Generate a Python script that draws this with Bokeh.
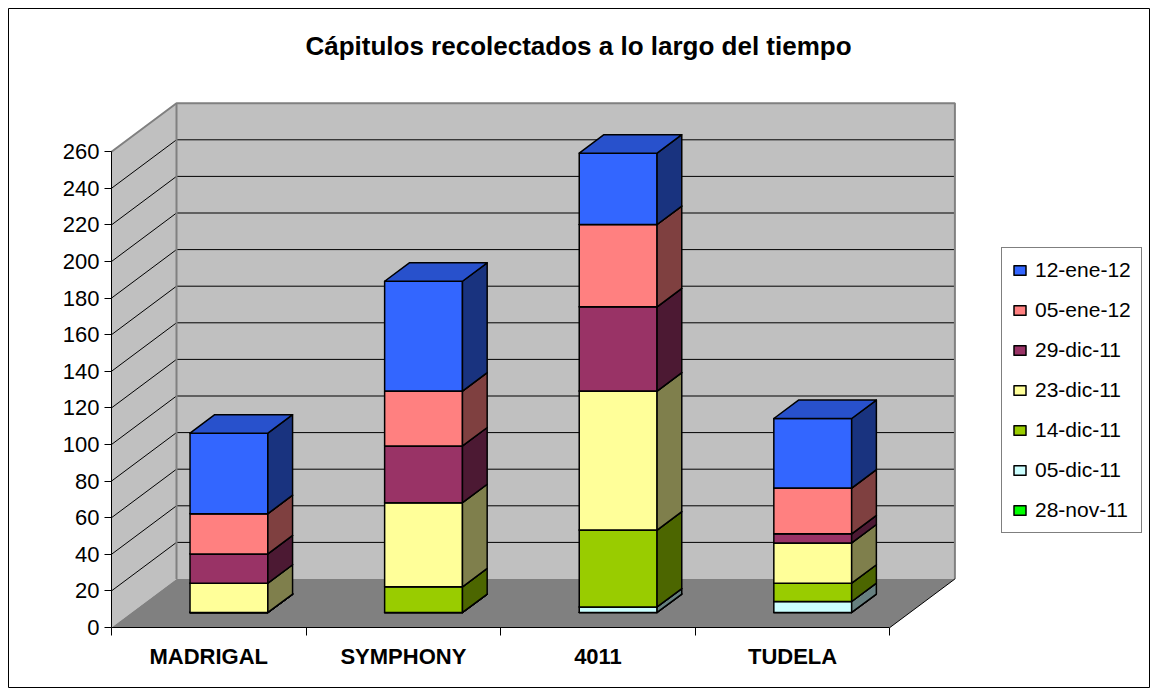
import numpy as np
from bokeh.plotting import figure
from bokeh.models import (Range1d, LinearAxis, FixedTicker, Legend, LegendItem,
                          Label, ColumnDataSource)
from bokeh.embed import file_html
from bokeh.resources import INLINE

# ---------------- data ----------------
categories = ["MADRIGAL", "SYMPHONY", "4011", "TUDELA"]
series_names = ["28-nov-11", "05-dic-11", "14-dic-11", "23-dic-11",
                "29-dic-11", "05-ene-12", "12-ene-12"]
nov28 = [0, 0, 0, 0]
dic05 = [0, 0, 3, 6]
dic14 = [0, 14, 42, 10]
dic23 = [16, 46, 76, 22]
dic29 = [16, 31, 46, 5]
ene05 = [22, 30, 45, 25]
ene12 = [44, 60, 39, 38]
series_values = [nov28, dic05, dic14, dic23, dic29, ene05, ene12]
series_colors = ["#00FF00", "#CCFFFF", "#99CC00", "#FFFF99",
                 "#993366", "#FF8080", "#3366FF"]
y_ticks = list(range(0, 261, 20))
title_text = "Cápitulos recolectados a lo largo del tiempo"

# ---------------- geometry (layout / style) ----------------
PX_PER_CAT = 194.6
PX_PER_UNIT = 1.83
DX = 65.0 / PX_PER_CAT      # depth offset in category units
DY = 48.5 / PX_PER_UNIT     # depth offset in value units
W = 0.40                    # bar width (category units)
D0 = 0.31                   # bar front depth fraction
DB = 0.38                   # bar depth fraction
N = len(categories)
YMAX = y_ticks[-1]
FONT = "Liberation Sans"


def shade(hx, f):
    hx = hx.lstrip("#")
    r, g, b = (int(hx[i:i + 2], 16) for i in (0, 2, 4))
    return "#%02X%02X%02X" % (int(r * f), int(g * f), int(b * f))


p = figure(width=1157, height=695, output_backend="svg", toolbar_location=None,
           x_range=Range1d(-103 / PX_PER_CAT, 1038 / PX_PER_CAT),
           y_range=Range1d(-60 / PX_PER_UNIT, 619 / PX_PER_UNIT),
           min_border=8, x_axis_type=None, y_axis_type=None)
p.outline_line_color = "black"
p.outline_line_width = 1
p.background_fill_color = "white"
p.border_fill_color = "white"

# walls and floor
p.patch([0, 0, DX, DX], [0, YMAX, YMAX + DY, DY], fill_color="#C0C0C0", line_color=None)
p.patch([DX, DX, N + DX, N + DX], [DY, YMAX + DY, YMAX + DY, DY],
        fill_color="#C0C0C0", line_color=None)
p.patch([0, N, N + DX, DX], [0, 0, DY, DY], fill_color="#808080", line_color=None)

grid_vals = [v for v in y_ticks if 0 < v < YMAX]
p.segment(x0=[DX] * len(grid_vals), y0=[v + DY for v in grid_vals],
          x1=[N + DX] * len(grid_vals), y1=[v + DY for v in grid_vals],
          line_color="black", line_width=1)
p.segment(x0=[0] * len(grid_vals), y0=grid_vals,
          x1=[DX] * len(grid_vals), y1=[v + DY for v in grid_vals],
          line_color="black", line_width=1)
# wall edges
p.line([0, DX, N + DX, N + DX], [YMAX, YMAX + DY, YMAX + DY, DY],
       line_color="#808080", line_width=2)
p.line([DX, DX], [DY, YMAX + DY], line_color="#808080", line_width=2)
p.line([N, N + DX], [0, DY], line_color="black", line_width=1)

# stacked 3D bars
bottom = np.zeros(N)
rends = {}
for name, vals, col in zip(series_names, series_values, series_colors):
    top = bottom + np.array(vals, dtype=float)
    xs, ys, fills = [], [], []
    bx, by = DB * DX, DB * DY
    for i in range(N):
        xl = i + 0.5 - W / 2 + D0 * DX
        xr = xl + W
        b = bottom[i] + D0 * DY
        t = top[i] + D0 * DY
        xs.append([xl, xr, xr, xl]); ys.append([b, b, t, t]); fills.append(col)
        xs.append([xr, xr + bx, xr + bx, xr]); ys.append([b, b + by, t + by, t])
        fills.append(shade(col, 0.5))
        xs.append([xl, xr, xr + bx, xl + bx]); ys.append([t, t, t + by, t + by])
        fills.append(shade(col, 0.8))
    src = ColumnDataSource(dict(xs=xs, ys=ys, fill=fills))
    rends[name] = p.patches("xs", "ys", source=src, fill_color="fill",
                            line_color="black", line_width=1.5, line_join="round")
    bottom = top

# axes
yaxis = LinearAxis(fixed_location=0, bounds=(0, YMAX), ticker=FixedTicker(ticks=y_ticks))
yaxis.major_tick_out = 7
yaxis.major_tick_in = 0
yaxis.minor_tick_out = 0
yaxis.minor_tick_in = 0
yaxis.major_label_standoff = 5
yaxis.major_label_text_font = FONT
yaxis.major_label_text_font_size = "22px"
yaxis.major_label_text_color = "black"
yaxis.axis_line_color = "black"
p.add_layout(yaxis, "left")

xaxis = LinearAxis(fixed_location=0, bounds=(0, N), ticker=FixedTicker(ticks=list(range(N + 1))))
xaxis.major_tick_out = 8
xaxis.major_tick_in = 0
xaxis.minor_tick_out = 0
xaxis.minor_tick_in = 0
xaxis.major_label_text_color = None
xaxis.axis_line_color = "black"
p.add_layout(xaxis, "below")

cat_ticks = [i + 0.5 for i in range(N)]
xlab = LinearAxis(fixed_location=0, ticker=FixedTicker(ticks=cat_ticks),
                  major_label_overrides={t: c for t, c in zip(cat_ticks, categories)})
xlab.axis_line_color = None
xlab.major_tick_line_color = None
xlab.minor_tick_line_color = None
xlab.major_label_standoff = 10
xlab.major_label_text_font = FONT
xlab.major_label_text_font_style = "bold"
xlab.major_label_text_font_size = "22px"
xlab.major_label_text_color = "black"
p.add_layout(xlab, "below")

# title
p.add_layout(Label(x=570, y=642, x_units="screen", y_units="screen", text=title_text,
                   text_align="center", text_baseline="middle", text_font=FONT,
                   text_font_style="bold", text_font_size="26px", text_color="black"))

# legend
items = [LegendItem(label=n, renderers=[rends[n]], index=0) for n in reversed(series_names)]
legend = Legend(items=items, location=(993, 154), orientation="vertical")
legend.border_line_color = "black"
legend.border_line_width = 1
legend.background_fill_color = "white"
legend.background_fill_alpha = 1
legend.label_text_font = FONT
legend.label_text_font_size = "21px"
legend.label_text_color = "black"
legend.glyph_width = 15
legend.glyph_height = 12
legend.label_height = 20
legend.spacing = 16
legend.padding = 10
legend.margin = 0
legend.label_standoff = 8
p.add_layout(legend)

open("out.html", "w").write(file_html(p, INLINE))
